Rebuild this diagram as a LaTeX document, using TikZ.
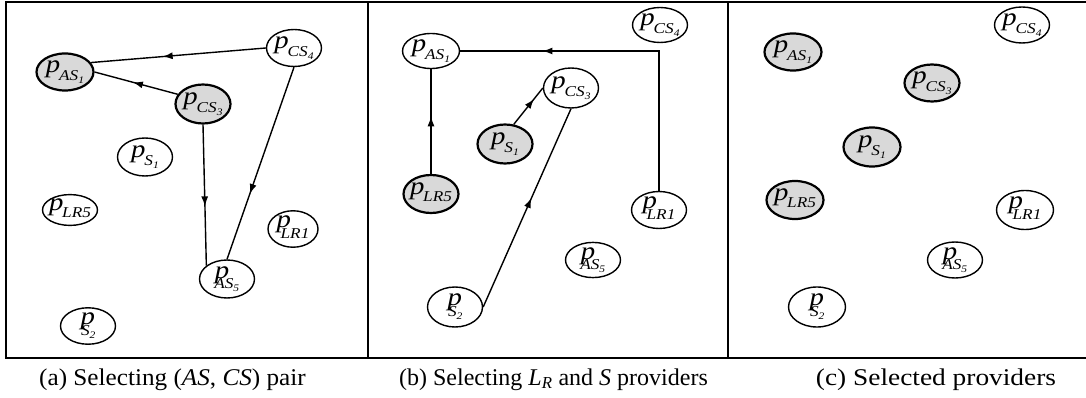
\documentclass[tikz,border=0pt]{standalone}
\usepackage{fontspec}
\setmainfont{Liberation Serif}
\usetikzlibrary{shapes.geometric,decorations.markings,arrows.meta}
% #1 subscript, #2 sub-subscript, #3 kern after p, #4 lowering of subscript
\newcommand\pv[4]{\makebox[30pt][c]{\scalebox{1.15}[1]{\textit{p}\kern#3\raisebox{#4}{\fontsize{15}{15}\selectfont\textit{#1}\raisebox{-3pt}{\fontsize{10}{10}\selectfont\textit{#2}}}}}}
\begin{document}
\begin{tikzpicture}[x=1pt,y=-1pt,
  prov/.style={ellipse,draw,line width=1.4pt,fill=white,minimum width=55pt,minimum height=36pt,inner sep=0pt,font=\fontsize{25}{25}\selectfont},
  sel/.style={prov,fill=gray!30,line width=2.2pt},
  conn/.style={line width=1.4pt},
  midarrow/.style={postaction={decorate},decoration={markings,mark=at position #1 with {\arrow{Latex[length=10pt,width=7pt]}}}},
  caption/.style={anchor=base,font=\fontsize{24}{24}\selectfont,inner sep=0pt}]
\useasboundingbox (0,0) rectangle (1086,398);
% frame
\draw[line width=2pt] (6,2) rectangle (1090,358);
\draw[line width=2pt] (367.5,2) -- (367.5,358);
\draw[line width=2pt] (728,2) -- (728,358);

% ---------- panel (a)
\node[sel,minimum width=57pt,minimum height=37pt] (aAS1) at (65,72) {\pv{AS}{1}{-1pt}{-8pt}};
\node[prov,minimum height=37pt] (aCS4) at (294,48) {\pv{CS}{4}{-1pt}{-8pt}};
\node[sel,minimum height=39pt] (aCS3) at (203,104) {\pv{CS}{3}{-1pt}{-8pt}};
\node[prov,minimum height=38pt] (aS1) at (145,157) {\pv{S}{1}{-1pt}{-8pt}};
\node[prov,minimum height=30pt] (aLR5) at (70,210) {\pv{LR5}{}{-1pt}{-7pt}};
\node[prov,minimum width=50pt,minimum height=35pt] (aLR1) at (293,229) {\pv{LR1}{}{-9pt}{-11pt}};
\node[prov,minimum height=38pt] (aAS5) at (227,279) {\pv{AS}{5}{-13pt}{-10pt}};
\node[prov,minimum height=35pt] (aS2) at (88,326) {\pv{S}{2}{-12pt}{-11pt}};
\draw[conn,midarrow=0.59] (aCS4.west) -- (aAS1.20);
\draw[conn,midarrow=0.54] (aCS3.159) -- (aAS1.east);
\draw[conn,midarrow=0.58] (aCS3.south) -- (aAS5.147);
\draw[conn,midarrow=0.66] (aCS4.south) -- (aAS5.north);
\node[caption] (capA) at (172.5,385) {\scalebox{1.05}[1]{(a) Selecting (\textit{AS}, \textit{CS}) pair}};

% ---------- panel (b)
\node[prov,minimum width=57pt,minimum height=35pt] (bAS1) at (431,51) {\pv{AS}{1}{-1pt}{-8pt}};
\node[prov,minimum height=35pt] (bCS4) at (660,25) {\pv{CS}{4}{-1pt}{-8pt}};
\node[prov,minimum height=40pt] (bCS3) at (571,88) {\pv{CS}{3}{-1pt}{-8pt}};
\node[sel,minimum height=39pt] (bS1) at (505,144) {\pv{S}{1}{-1pt}{-8pt}};
\node[sel,minimum height=38pt] (bLR5) at (431,194) {\pv{LR5}{}{-1pt}{-7pt}};
\node[prov,minimum height=37pt] (bLR1) at (659,210) {\pv{LR1}{}{-9pt}{-11pt}};
\node[prov,minimum height=34pt] (bAS5) at (593,260) {\pv{AS}{5}{-13pt}{-10pt}};
\node[prov,minimum height=40pt] (bS2) at (455,307) {\pv{S}{2}{-12pt}{-11pt}};
\draw[conn,midarrow=0.55] (bLR5.north) -- (bAS1.south);
\draw[conn,midarrow=0.757] (bLR1.north) |- (bAS1.east);
\draw[conn,midarrow=0.7] (bS1.66) -- (bCS3.west);
\draw[conn,midarrow=0.55] (bS2.east) -- (bCS3.south);
\node[caption] (capB) at (553.5,385) {(b) Selecting \textit{L}\textsubscript{\textit{R}} and \textit{S} providers};

% ---------- panel (c)
\node[prov,minimum height=36pt] (cCS4) at (1022,25) {\pv{CS}{4}{-1pt}{-8pt}};
\node[sel,minimum width=57pt,minimum height=37pt] (cAS1) at (793,52) {\pv{AS}{1}{-1pt}{-8pt}};
\node[sel,minimum height=37pt] (cCS3) at (932,83) {\pv{CS}{3}{-1pt}{-8pt}};
\node[sel,minimum width=57pt,minimum height=39pt] (cS1) at (872,147) {\pv{S}{1}{-1pt}{-8pt}};
\node[sel,minimum width=57pt,minimum height=38pt] (cLR5) at (795,200) {\pv{LR5}{}{-1pt}{-7pt}};
\node[prov,minimum width=57pt,minimum height=39pt] (cLR1) at (1025,210) {\pv{LR1}{}{-9pt}{-11pt}};
\node[prov,minimum height=36pt] (cAS5) at (955,260) {\pv{AS}{5}{-13pt}{-10pt}};
\node[prov,minimum width=57pt,minimum height=40pt] (cS2) at (817,307) {\pv{S}{2}{-12pt}{-11pt}};
\node[caption] (capC) at (936,385) {\scalebox{1.14}[1]{(c) Selected providers}};
\end{tikzpicture}
\end{document}
